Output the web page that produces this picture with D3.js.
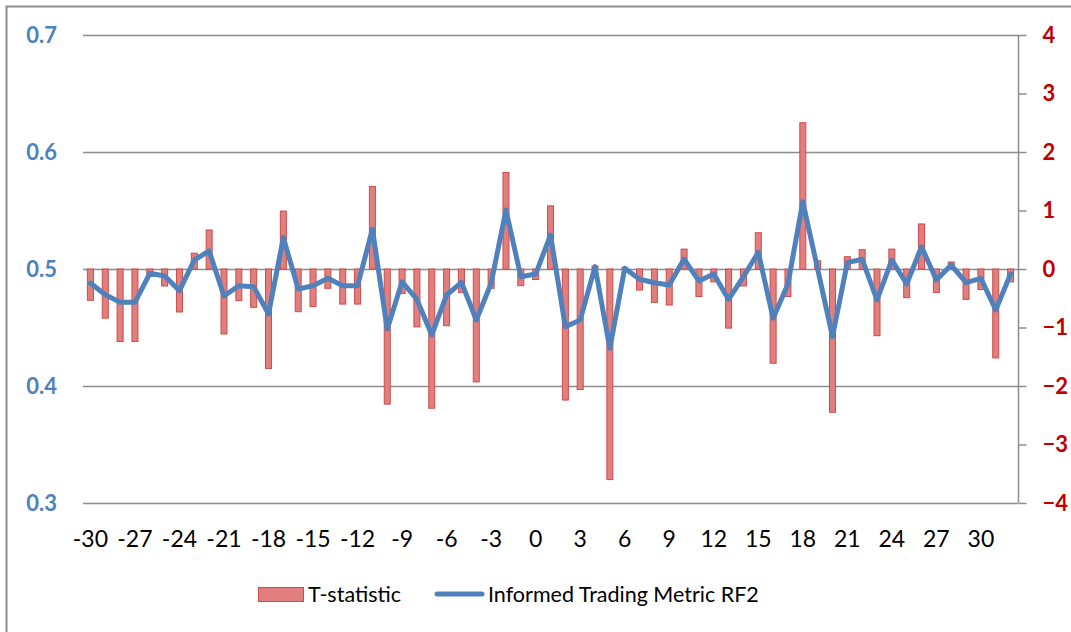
<!DOCTYPE html>
<html><head><meta charset="utf-8">
<script src="https://cdn.jsdelivr.net/npm/d3@7"></script>
<style>
html,body{margin:0;padding:0;background:#fff;}
svg{display:block;font-family:Lato, "Open Sans", sans-serif;}
</style></head>
<body><svg id="c" width="1071" height="632"></svg>
<script>
const categories = d3.range(-30, 33);
const tStatistic = [-0.535,-0.84,-1.24,-1.24,-0.1,-0.29,-0.735,0.27,0.667,-1.11,
 -0.54,-0.655,-1.70,0.99,-0.73,-0.64,-0.33,-0.60,-0.60,1.41,
 -2.31,-0.42,-0.99,-2.38,-0.97,-0.40,-1.93,-0.33,1.65,-0.285,
 -0.18,1.08,-2.24,-2.06,0.05,-3.60,0.02,-0.36,-0.57,-0.615,
 0.34,-0.47,-0.22,-1.01,-0.29,0.62,-1.61,-0.47,2.50,0.14,
 -2.45,0.21,0.33,-1.14,0.34,-0.49,0.77,-0.40,0.12,-0.52,
 -0.35,-1.52,-0.22];
const metricRF2 = [0.488,0.478,0.4715,0.4715,0.4963,0.494,0.4815,0.5077,0.5154,0.477,
 0.4857,0.4849,0.4615,0.5268,0.4829,0.4857,0.492,0.4857,0.4857,0.534,
 0.4487,0.489,0.474,0.4436,0.4778,0.4886,0.4564,0.4878,0.5504,0.4934,
 0.4957,0.529,0.4507,0.4564,0.502,0.4322,0.5006,0.4912,0.4883,0.4863,
 0.5085,0.4898,0.4957,0.474,0.4934,0.5143,0.4579,0.4872,0.5575,0.5,
 0.4422,0.5054,0.5083,0.4735,0.5077,0.4872,0.519,0.4906,0.5034,0.4883,
 0.492,0.465,0.4957];
const leftTicks = [0.3,0.4,0.5,0.6,0.7];
const rightTicks = [-4,-3,-2,-1,0,1,2,3,4];
const xTickLabels = d3.range(-30, 31, 3);
const seriesNames = ["T-statistic","Informed Trading Metric RF2"];

const svg = d3.select("#c");
svg.append("path").attr("d","M6.5,640V6.5H1080").attr("fill","none").attr("stroke","#8c8c8c").attr("stroke-width",2);

const x = d3.scaleBand().domain(categories).range([83,1018]).padding(0);
const yL = d3.scaleLinear().domain([0.3,0.7]).range([503,35]);
const yR = d3.scaleLinear().domain([-4,4]).range([503,35]);

svg.append("g").selectAll("line").data(leftTicks).join("line")
 .attr("x1",83).attr("x2",1018).attr("y1",d=>Math.round(yL(d))+0.5).attr("y2",d=>Math.round(yL(d))+0.5)
 .attr("stroke","#8c8c8c").attr("stroke-width",1.5);

svg.append("g").selectAll("text").data(leftTicks).join("text")
 .attr("x",57).attr("y",d=>yL(d)).attr("dy","0.36em").attr("text-anchor","end")
 .attr("font-size",22).attr("font-weight","bold").attr("fill","#4f81bd").text(d=>d3.format(".1f")(d));

const gR = svg.append("g").attr("transform","translate(1018.5,0)");
gR.call(d3.axisRight(yR).tickValues(rightTicks).tickSize(8).tickPadding(16).tickFormat(d3.format("d")));
gR.select(".domain").attr("stroke","#8c8c8c").attr("stroke-width",1.5).attr("d","M0,35V503");
gR.selectAll(".tick line").attr("stroke","#8c8c8c").attr("stroke-width",1.5);
gR.selectAll(".tick text").attr("font-size",22).attr("font-weight","bold").attr("fill","#c00000").attr("font-family","Lato, sans-serif");

const bw = 6;
svg.append("g").selectAll("rect").data(categories).join("rect")
 .attr("x",(d)=>x(d)+x.bandwidth()/2-bw/2)
 .attr("y",(d,i)=>Math.min(yR(0),yR(tStatistic[i])))
 .attr("width",bw)
 .attr("height",(d,i)=>Math.abs(yR(tStatistic[i])-yR(0)))
 .attr("fill","#e07f7d").attr("stroke","#d04a48").attr("stroke-width",1);

const line = d3.line().x((d,i)=>x(categories[i])+x.bandwidth()/2).y(d=>yL(d));
svg.append("path").datum(metricRF2).attr("d",line).attr("fill","none")
 .attr("stroke","#4f81bd").attr("stroke-width",5).attr("stroke-linejoin","round").attr("stroke-linecap","round");

svg.append("g").selectAll("text").data(xTickLabels).join("text")
 .attr("x",d=>x(d)+x.bandwidth()/2).attr("y",547).attr("text-anchor","middle")
 .attr("font-size",23).attr("fill","#000").text(d=>d);

const lg = svg.append("g");
lg.append("rect").attr("x",258.5).attr("y",587.5).attr("width",45).attr("height",14)
 .attr("fill","#e07f7d").attr("stroke","#d04a48").attr("stroke-width",1);
lg.append("text").attr("x",308).attr("y",602).attr("font-size",21.5).attr("fill","#000").text(seriesNames[0]);
lg.append("line").attr("x1",437).attr("x2",482).attr("y1",594).attr("y2",594)
 .attr("stroke","#4f81bd").attr("stroke-width",5).attr("stroke-linecap","round");
lg.append("text").attr("x",488).attr("y",602).attr("font-size",21.5).attr("fill","#000").text(seriesNames[1]);
</script></body></html>
